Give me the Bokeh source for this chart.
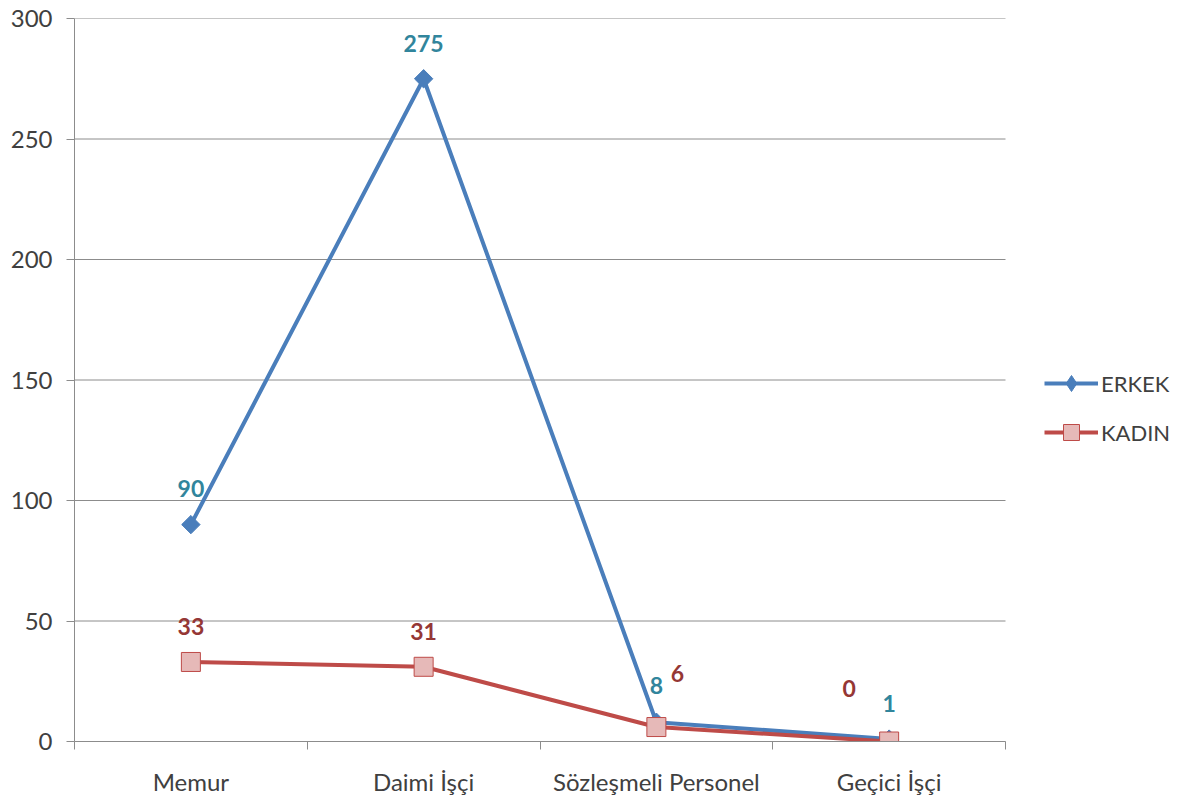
from bokeh.plotting import figure
from bokeh.models import (ColumnDataSource, FixedTicker, Legend, LegendItem, Range1d)
from bokeh.core.properties import value
from bokeh.embed import file_html
from bokeh.resources import INLINE
import math

categories = ["Memur", "Daimi İşçi", "Sözleşmeli Personel", "Geçici İşçi"]
erkek = [90, 275, 8, 1]
kadin = [33, 31, 6, 0]
y_ticks = [0, 50, 100, 150, 200, 250, 300]

# label styling offsets (screen px)
erkek_dx = [0, 0, 0, 0]
erkek_dy = [-36, -35, -37, -36]
kadin_dx = [0, 0, 21, -40]
kadin_dy = [-35, -35, -54, -53]

FONT = "Lato"
BLUE = "#4A7EBB"
RED = "#BE4B48"
PINK = "#E6B9B8"
TEAL = "#31859C"
DARKRED = "#953735"
TXT = "#404040"
GRID = "#8C8C8C"

W, H = 1182, 800
LEFT, RIGHT_PLOT, TOP, BOTTOM = 74, 1005, 18, 741
n = len(categories)
xs = [i + 0.5 for i in range(n)]
x_end = n * (W - LEFT) / (RIGHT_PLOT - LEFT)

p = figure(width=W, height=H, output_backend="svg", toolbar_location=None,
           x_range=Range1d(0, x_end), y_range=Range1d(0, 300),
           min_border_left=LEFT, min_border_right=0, min_border_top=TOP,
           min_border_bottom=H - BOTTOM)
p.outline_line_color = None
p.background_fill_color = "white"
p.border_fill_color = "white"

# axes
p.xaxis.bounds = (0, n)
p.xaxis.ticker = FixedTicker(ticks=xs, minor_ticks=list(range(n + 1)))
p.xaxis.major_label_overrides = {x: c for x, c in zip(xs, categories)}
p.xaxis.major_tick_out = 0
p.xaxis.major_tick_in = 0
p.xaxis.minor_tick_out = 8
p.xaxis.minor_tick_in = 0
p.xaxis.minor_tick_line_color = GRID
p.xaxis.axis_line_color = GRID
p.xaxis.major_label_standoff = 17
p.xaxis.major_label_text_font = FONT
p.xaxis.major_label_text_font_size = "24px"
p.xaxis.major_label_text_color = TXT

p.yaxis.ticker = FixedTicker(ticks=y_ticks)
p.yaxis.major_tick_out = 8
p.yaxis.major_tick_in = 0
p.yaxis.minor_tick_out = 0
p.yaxis.minor_tick_in = 0
p.yaxis.major_tick_line_color = GRID
p.yaxis.axis_line_color = GRID
p.yaxis.major_label_standoff = 14
p.yaxis.major_label_text_font = FONT
p.yaxis.major_label_text_font_size = "24px"
p.yaxis.major_label_text_color = TXT

p.xgrid.grid_line_color = None
p.ygrid.grid_line_color = None
# horizontal gridlines limited to the category span
p.segment(x0=[0] * len(y_ticks), x1=[n] * len(y_ticks), y0=y_ticks, y1=y_ticks,
          line_color=GRID, line_width=1)

src_e = ColumnDataSource(dict(x=xs, y=erkek, t=[str(v) for v in erkek], dx=erkek_dx, dy=erkek_dy))
src_k = ColumnDataSource(dict(x=xs, y=kadin, t=[str(v) for v in kadin], dx=kadin_dx, dy=kadin_dy))

le = p.line("x", "y", source=src_e, line_color=BLUE, line_width=4)
# diamond used for the legend symbol (hidden beneath the rotated-square markers)
me_leg = p.scatter("x", "y", source=src_e, marker="diamond", size=13,
                   fill_color=BLUE, line_color=BLUE)
me = p.scatter("x", "y", source=src_e, marker="square", angle=math.pi / 4, size=13,
               fill_color=BLUE, line_color=BLUE)
lk = p.line("x", "y", source=src_k, line_color=RED, line_width=4)
mk = p.scatter("x", "y", source=src_k, marker="square", size=19,
               fill_color=PINK, line_color=RED, line_width=1)

p.text("x", "y", text="t", source=src_e, x_offset="dx", y_offset="dy",
       text_align="center", text_baseline="middle", text_color=TEAL,
       text_font=value(FONT), text_font_style="bold", text_font_size="23px")
p.text("x", "y", text="t", source=src_k, x_offset="dx", y_offset="dy",
       text_align="center", text_baseline="middle", text_color=DARKRED,
       text_font=value(FONT), text_font_style="bold", text_font_size="23px")

legend = Legend(items=[LegendItem(label="ERKEK", renderers=[le, me_leg]),
                       LegendItem(label="KADIN", renderers=[lk, mk])],
                location=(1044 - LEFT, BOTTOM - 452), orientation="vertical",
                glyph_width=54, glyph_height=40, spacing=9, padding=0, margin=0,
                label_standoff=3, border_line_color=None, background_fill_alpha=0,
                label_text_font=FONT, label_text_font_size="22px", label_text_color=TXT)
p.add_layout(legend)

open("out.html", "w").write(file_html(p, INLINE))
